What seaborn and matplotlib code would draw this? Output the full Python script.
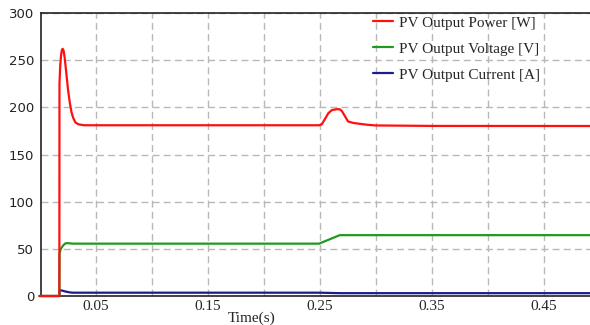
import numpy as np
import pandas as pd
import matplotlib
matplotlib.use("Agg")
import matplotlib.pyplot as plt
import seaborn as sns

# Valores
t_power = [0.0, 0.0177, 0.0178, 0.0185, 0.0193, 0.0200, 0.0207, 0.0215, 0.0225,
           0.0240, 0.0255, 0.0270, 0.0285, 0.0300, 0.0320, 0.0347, 0.0400,
           0.2500, 0.2520, 0.2550, 0.2580, 0.2610, 0.2650, 0.2680, 0.2700,
           0.2730, 0.2755, 0.2800, 0.2860, 0.2930, 0.3000, 0.3500, 0.4920]
power = [0, 0, 225, 245, 256, 261, 262, 260, 252,
         235, 218, 205, 195, 189, 184, 182, 181,
         181, 182, 188, 194, 197, 198, 198, 196,
         190, 185, 183.5, 182.5, 181.5, 180.8, 180.3, 180.2]

t_voltage = [0.0, 0.0177, 0.0178, 0.0190, 0.0210, 0.0230, 0.0250, 0.0300,
             0.2496, 0.2680, 0.4920]
voltage = [0, 0, 45, 50, 53.5, 55.8, 56, 55.5,
           55.5, 64.5, 64.5]

t_current = [0.0, 0.0177, 0.0178, 0.0200, 0.0230, 0.0270, 0.0300,
             0.2500, 0.2680, 0.4920]
current = [0, 0, 6.2, 5.8, 4.8, 3.8, 3.5,
           3.5, 3.0, 3.0]

labels = ["PV Output Power [W]", "PV Output Voltage [V]", "PV Output Current [A]"]
colors = ["#ff1010", "#1f9a1f", "#1c1c8c"]

sns.set_style("white")

fig = plt.figure(figsize=(5.9, 3.25), dpi=100)
ax = fig.add_axes([41 / 590, 1 - 296 / 325, 549 / 590, 283 / 325])

sns.lineplot(x=t_current, y=current, ax=ax, color=colors[2], lw=1.6,
             estimator=None, label=labels[2], zorder=3)
sns.lineplot(x=t_voltage, y=voltage, ax=ax, color=colors[1], lw=1.6,
             estimator=None, label=labels[1], zorder=3)
sns.lineplot(x=t_power, y=power, ax=ax, color=colors[0], lw=1.6,
             estimator=None, label=labels[0], zorder=4)
for ln in ax.lines:
    ln.set_clip_on(False)

ax.set_xlim(0.0013, 0.4915)
ax.set_ylim(0, 300)

# grade tracejada
ax.set_xticks(np.arange(0.05, 0.50, 0.05))
ax.set_xticklabels(["0.05", "", "0.15", "", "0.25", "", "0.35", "", "0.45"],
                   fontfamily="Liberation Serif", fontsize=11)
ax.set_yticks(np.arange(0, 301, 50))
ax.set_yticklabels(["0", "50", "100", "150", "200", "250", "300"],
                   fontfamily="DejaVu Sans", fontsize=9.5, color="#222222")
ax.grid(True, color="#b8b8b8", linestyle=(0, (5, 3)), lw=1.0)
ax.tick_params(axis="x", direction="in", length=3, pad=3, color="#444444")
ax.tick_params(axis="y", length=0, pad=5)

for side in ["left", "bottom", "top"]:
    ax.spines[side].set_color("#222222")
    ax.spines[side].set_linewidth(1.2)
ax.spines["right"].set_visible(False)

ax.set_xlabel("Time(s)", fontfamily="Liberation Serif", fontsize=11)
ax.xaxis.set_label_coords((252 - 41) / 549, -0.055)
ax.set_ylabel("")

# legenda na ordem potencia, tensao, corrente
handles, lbls = ax.get_legend_handles_labels()
order = [lbls.index(l) for l in labels]
leg = ax.legend([handles[i] for i in order], [lbls[i] for i in order],
                loc="upper left", bbox_to_anchor=(373 / 590, 1 - 16 / 325),
                bbox_transform=fig.transFigure, frameon=False,
                prop={"family": "Liberation Serif", "size": 11},
                handlelength=1.3, handletextpad=0.4, borderpad=0,
                borderaxespad=0, labelspacing=0.8)

fig.savefig("out.png", dpi=100)
